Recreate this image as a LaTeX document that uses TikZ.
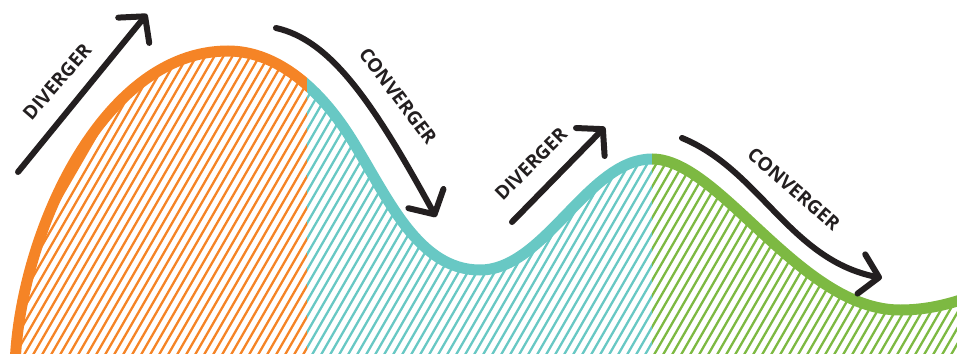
\documentclass[tikz,border=0pt]{standalone}
\usepackage{fontspec}
\setmainfont{Open Sans}
\usetikzlibrary{arrows.meta}
\definecolor{divorange}{HTML}{F58426}
\definecolor{convteal}{HTML}{68C8C4}
\definecolor{convgreen}{HTML}{7DB942}
\definecolor{penblack}{HTML}{231F20}
\def\wave{(15,368) .. controls (18,240) and (100,51) .. (228,51) .. controls (272,51) and (316,82) .. (352,140) .. controls (388,198) and (418,270) .. (480,270) .. controls (545,270) and (588,159) .. (652,159) .. controls (720,159) and (800,310) .. (900,310) .. controls (925,310) and (948,305) .. (975,295)}
\tikzset{
  hatchline/.style={line width=2.3pt},
  waveline/.style={line width=11pt},
  pointer/.style={line width=6pt, color=penblack, line cap=round, line join=round,
    -{Straight Barb[length=18pt, width=40pt, round]}},
  phase/.style={font=\fontsize{19}{19}\selectfont\bfseries, text=penblack, inner sep=0pt}
}

\begin{document}
\begin{tikzpicture}[x=1pt, y=-1pt]
			%%%%% START %%%%%
			\useasboundingbox (0,0) rectangle (957,353);
			
			% hatching under the curve
			\begin{scope}
				\clip \wave -- (975,370) -- cycle;
				\foreach \a/\b/\c in {0/307/divorange, 307/652/convteal, 652/975/convgreen} {
					\begin{scope}
						\clip (\a,-20) rectangle (\b,380);
						\foreach \x in {-240,-231,...,980}
							\draw[hatchline, color=\c] (\x,360) -- ++(231,-400);
					\end{scope}
				}
			\end{scope}
			
			% the curve itself
			\foreach \a/\b/\c in {-20/307/divorange, 307/652/convteal, 652/990/convgreen} {
				\begin{scope}
					\clip (\a,-20) rectangle (\b,380);
					\draw[waveline, color=\c] \wave;
				\end{scope}
			}
			
			% arrows
			\coordinate (d1from) at (18,172);
			\coordinate (d1to) at (147,14);
			\coordinate (c1from) at (276,28);
			\coordinate (c1to) at (436,217);
			\coordinate (d2from) at (512,222);
			\coordinate (d2to) at (605,127);
			\coordinate (c2from) at (682,138);
			\coordinate (c2to) at (882,278);
			
			\draw[pointer] (d1from) -- (d1to);
			\draw[pointer] (c1from) .. controls (330,40) and (372,100) .. (c1to);
			\draw[pointer] (d2from) -- (d2to);
			\draw[pointer] (c2from) .. controls (760,170) and (790,260) .. (c2to);
			
			% labels
			\node[phase, rotate=49] (d1lbl) at (57,82) {DIVERGER};
			\node[phase, rotate=-53] (c1lbl) at (398,96) {CONVERGER};
			\node[phase, rotate=45] (d2lbl) at (531,164) {DIVERGER};
			\node[phase, rotate=-41] (c2lbl) at (794,189) {CONVERGER};
			
			%%%%% END %%%%%
\end{tikzpicture}
\end{document}
